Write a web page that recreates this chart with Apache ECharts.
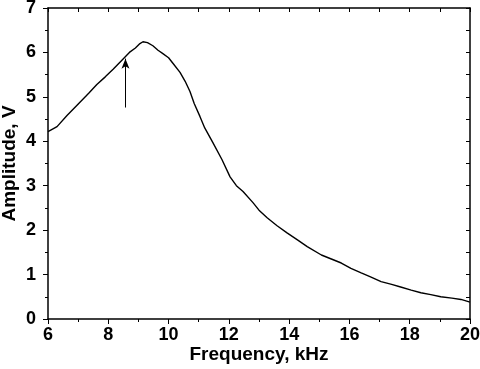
<!DOCTYPE html>
<html><head><meta charset="utf-8">
<script src="https://cdn.jsdelivr.net/npm/echarts@6/dist/echarts.min.js"></script>
<style>html,body{margin:0;padding:0;background:#fff}#c{width:480px;height:369px}</style>
</head><body><div id="c"></div>
<script>
const freq = [6.0,6.3,6.63,7.06,7.35,7.62,7.9,8.16,8.5,8.7,8.9,9.05,9.15,9.3,9.48,9.65,9.8,10.0,10.15,10.38,10.55,10.71,10.85,11.04,11.2,11.47,11.77,12.04,12.25,12.47,12.8,13.0,13.27,13.6,13.93,14.3,14.6,15.07,15.4,15.73,16.05,16.39,16.7,17.05,17.4,17.7,18.05,18.37,18.7,19.03,19.4,19.7,20.0];
const amp = [4.22,4.33,4.58,4.88,5.08,5.28,5.45,5.62,5.86,6.0,6.1,6.2,6.24,6.22,6.15,6.05,5.98,5.88,5.75,5.55,5.35,5.12,4.85,4.56,4.3,3.97,3.59,3.2,3.0,2.87,2.62,2.45,2.28,2.1,1.94,1.77,1.63,1.44,1.35,1.26,1.14,1.04,0.95,0.84,0.78,0.72,0.65,0.59,0.55,0.50,0.47,0.44,0.38];
const arrowX = 8.57, arrowFrom = 4.76, arrowTo = 5.86;
const xTitle = 'Frequency, kHz', yTitle = 'Amplitude, V';

const font = {fontFamily:'Liberation Sans', fontWeight:'bold', fontSize:18, color:'#000'};
const titleFont = {fontFamily:'Liberation Sans', fontWeight:'bold', fontSize:19, color:'#000'};
const chart = echarts.init(document.getElementById('c'));
chart.setOption({
  animation:false,
  grid:{left:48,right:10,top:8,bottom:50,containLabel:false,outerBoundsMode:'none'},
  xAxis:[{
    type:'value',min:6,max:20,interval:2,
    name:xTitle,nameLocation:'middle',nameGap:26,nameTextStyle:titleFont,nameMoveOverlap:false,
    axisLine:{onZero:false,lineStyle:{color:'#000',width:1.5}},
    axisTick:{inside:false,length:5,lineStyle:{color:'#000',width:1}},
    minorTick:{show:true,splitNumber:2,length:3,lineStyle:{color:'#000',width:1}},
    axisLabel:Object.assign({margin:7},font),
    splitLine:{show:false}
  },{
    type:'value',position:'top',min:6,max:20,interval:1,
    axisLine:{onZero:false,lineStyle:{color:'#000',width:1.5}},
    axisTick:{inside:true,length:4,lineStyle:{color:'#000',width:1}},
    axisLabel:{show:false},splitLine:{show:false}
  }],
  yAxis:[{
    type:'value',min:0,max:7,interval:1,
    name:yTitle,nameLocation:'middle',nameGap:29,nameTextStyle:titleFont,nameMoveOverlap:false,
    axisLine:{onZero:false,lineStyle:{color:'#000',width:1.5}},
    axisTick:{inside:false,length:5,lineStyle:{color:'#000',width:1}},
    minorTick:{show:true,splitNumber:2,length:3,lineStyle:{color:'#000',width:1}},
    axisLabel:Object.assign({margin:12},font),
    splitLine:{show:false}
  },{
    type:'value',position:'right',min:0,max:7,interval:0.5,
    axisLine:{onZero:false,lineStyle:{color:'#000',width:1.5}},
    axisTick:{inside:true,length:4,lineStyle:{color:'#000',width:1}},
    axisLabel:{show:false},splitLine:{show:false}
  }],
  series:[{
    type:'line',showSymbol:false,smooth:false,
    data:freq.map((f,i)=>[f,amp[i]]),
    lineStyle:{color:'#000',width:1.4},
    markLine:{
      silent:true,symbol:['none','arrow'],symbolSize:[6,10],
      label:{show:false},
      lineStyle:{color:'#000',width:1,type:'solid'},
      data:[[{coord:[arrowX,arrowFrom]},{coord:[arrowX,arrowTo]}]]
    }
  }]
});
</script></body></html>
